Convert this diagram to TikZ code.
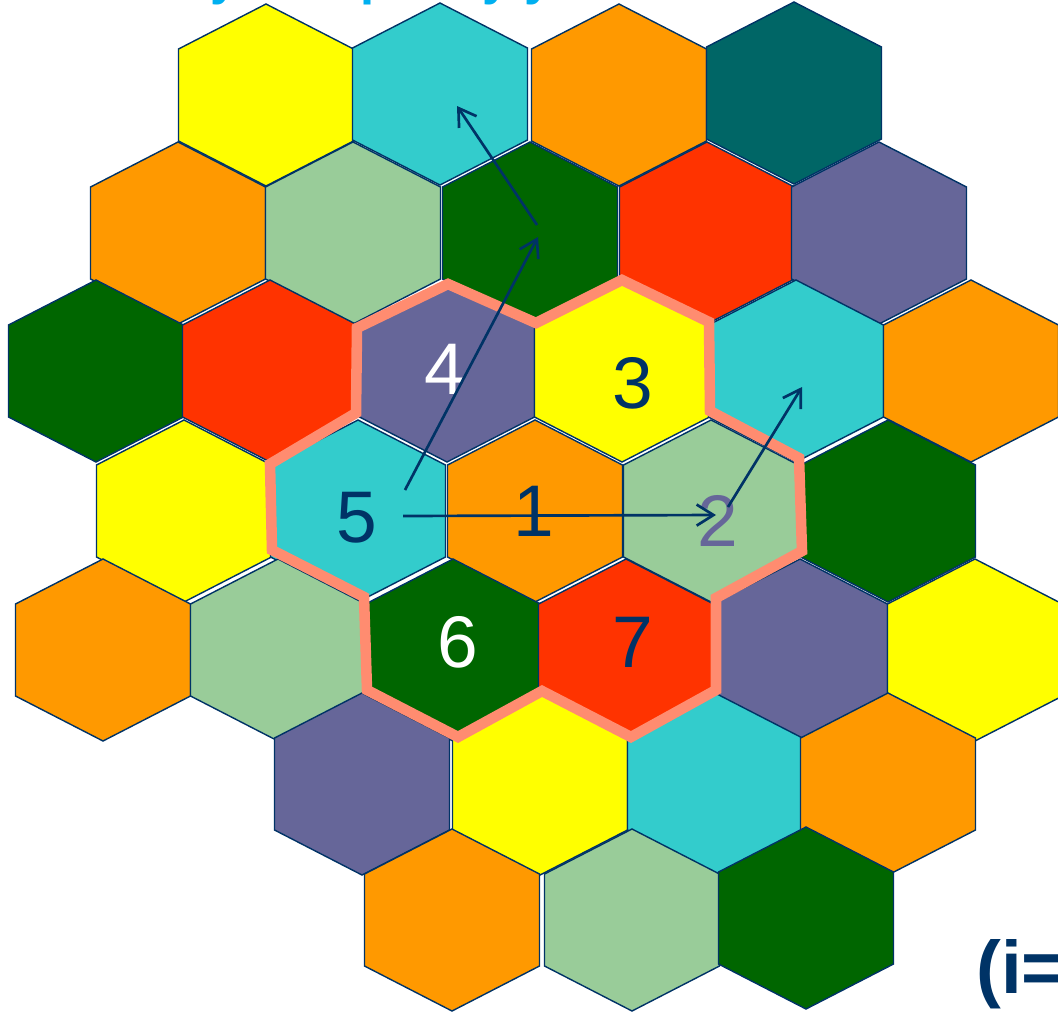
\documentclass[tikz,border=0pt]{standalone}
\usepackage{fontspec}
\setmainfont{Liberation Sans}
\usetikzlibrary{arrows.meta}

\definecolor{cellyellow}{HTML}{FFFF00}
\definecolor{cellcyan}{HTML}{33CCCC}
\definecolor{cellorange}{HTML}{FF9900}
\definecolor{cellteal}{HTML}{006666}
\definecolor{cellmint}{HTML}{99CC99}
\definecolor{cellgreen}{HTML}{006600}
\definecolor{cellred}{HTML}{FF3300}
\definecolor{cellpurple}{HTML}{666699}
\definecolor{navy}{HTML}{003366}
\definecolor{salmon}{HTML}{FF8C70}
\definecolor{titleblue}{HTML}{00B0F0}

\tikzset{
  cell/.style={draw=navy, line width=1pt, line join=miter},
  cluster/.style={draw=salmon, line width=7.5pt, line join=miter},
  num/.style={font=\fontsize{52}{60}\selectfont, inner sep=0pt},
  hop/.style={draw=navy, line width=1.9pt, -{Straight Barb[length=12pt,width=15pt]}},
  titre/.style={font=\fontsize{36}{40}\selectfont\bfseries, text=titleblue, anchor=base west, inner sep=0pt},
}

% hexagone pointe en haut : x, y du centre, couleur
\newcommand{\hexcell}[3]{%
  \path[cell, fill=#3] (#1,#2) ++(0,-91) -- ++(87.5,45) -- ++(0,92)
    -- ++(-87.5,45) -- ++(-87.5,-45) -- ++(0,-92) -- cycle;}

\begin{document}
\begin{tikzpicture}[x=0.025cm, y=-0.025cm]
    \clip (0,0) rectangle (1058,1013);

    % Titre (coupé)
    \node[titre] (t1) at (210,-6) {y};
    \node[titre] (t2) at (360,-6) {p};
    \node[titre] (t3) at (482,-6) {y};
    \node[titre] (t4) at (524,-6) {y};

    % Rangée 1
    \hexcell{266}{95}{cellyellow}
    \hexcell{440}{94}{cellcyan}
    \hexcell{619}{95}{cellorange}
    \hexcell{794}{93}{cellteal}
    % Rangée 2
    \hexcell{178}{233}{cellorange}
    \hexcell{353}{233}{cellmint}
    \hexcell{530}{233}{cellgreen}
    \hexcell{707}{233}{cellred}
    \hexcell{879}{233}{cellpurple}
    % Rangée 3
    \hexcell{96}{371}{cellgreen}
    \hexcell{270}{371}{cellred}
    \hexcell{447}{371}{cellpurple}
    \hexcell{622}{371}{cellyellow}
    \hexcell{796}{371}{cellcyan}
    \hexcell{971}{371}{cellorange}
    % Rangée 4
    \hexcell{184}{511}{cellyellow}
    \hexcell{358}{511}{cellcyan}
    \hexcell{535}{511}{cellorange}
    \hexcell{711}{511}{cellmint}
    \hexcell{888}{511}{cellgreen}
    % Rangée 5
    \hexcell{103}{650}{cellorange}
    \hexcell{278}{650}{cellmint}
    \hexcell{453}{650}{cellgreen}
    \hexcell{626}{650}{cellred}
    \hexcell{800}{650}{cellpurple}
    \hexcell{975}{650}{cellyellow}
    % Rangée 6
    \hexcell{362}{784}{cellpurple}
    \hexcell{540}{784}{cellyellow}
    \hexcell{715}{784}{cellcyan}
    \hexcell{888}{784}{cellorange}
    % Rangée 7
    \hexcell{452}{920}{cellorange}
    \hexcell{632}{920}{cellmint}
    \hexcell{806}{918}{cellgreen}

    % Motif de 7 cellules
    \draw[cluster] (357,328) -- (448,284) -- (536,323) -- (622,280) -- (709,322)
        -- (710,411) -- (799,458) -- (802,551) -- (716,598) -- (716,690)
        -- (631,737) -- (542,691) -- (458,737) -- (367,690) -- (364,597)
        -- (272,550) -- (270,464) -- (356,413) -- cycle;

    % Numéros
    \node[num, text=white] (n4) at (445,369) {4};
    \node[num, text=navy] (n3) at (633,383) {3};
    \node[num, text=navy] (n5) at (357,518) {5};
    \node[num, text=navy] (n1) at (534,511) {1};
    \node[num, text=cellpurple] (n2) at (718,521) {2};
    \node[num, text=white] (n6) at (458,642) {6};
    \node[num, text=navy] (n7) at (633,642) {7};

    % Déplacements
    \coordinate (s5up) at (405,490);
    \coordinate (mid) at (538,237);
    \coordinate (s1up) at (537,225);
    \coordinate (far) at (457,106);
    \coordinate (s5right) at (403,516);
    \coordinate (e2) at (716,515);
    \coordinate (s2up) at (728,507);
    \coordinate (e2up) at (802,387);
    \draw[hop] (s5up) -- (mid);
    \draw[hop] (s1up) -- (far);
    \draw[hop] (s5right) -- (e2);
    \draw[hop] (s2up) -- (e2up);

    % (i=
    \node[font=\fontsize{53}{60}\selectfont\bfseries, text=navy, anchor=base west, inner sep=0pt] (pair) at (976,993) {(i=};
\end{tikzpicture}
\end{document}
